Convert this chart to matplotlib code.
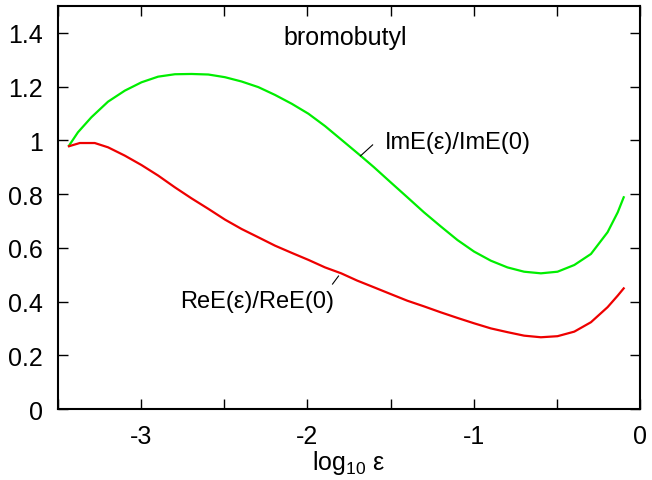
import matplotlib
matplotlib.use("Agg")
import matplotlib.pyplot as plt
import numpy as np

plt.rcParams['font.family'] = ['Liberation Sans', 'DejaVu Sans']
plt.rcParams['mathtext.default'] = 'regular'

# ImE(eps)/ImE(0)
x_im = [-3.434, -3.380, -3.299, -3.199, -3.098, -2.998, -2.898, -2.797, -2.697,
        -2.596, -2.496, -2.396, -2.295, -2.195, -2.094, -1.994, -1.894, -1.797,
        -1.681, -1.600, -1.500, -1.399, -1.299, -1.199, -1.098, -0.998, -0.897,
        -0.797, -0.697, -0.596, -0.496, -0.395, -0.295, -0.195, -0.134, -0.098]
y_im = [0.980, 1.030, 1.086, 1.144, 1.185, 1.216, 1.237, 1.246, 1.247,
        1.245, 1.235, 1.219, 1.198, 1.169, 1.136, 1.099, 1.053, 1.003,
        0.943, 0.900, 0.844, 0.788, 0.732, 0.680, 0.629, 0.586, 0.552,
        0.527, 0.511, 0.505, 0.511, 0.536, 0.577, 0.658, 0.732, 0.788]

# ReE(eps)/ReE(0)
x_re = [-3.434, -3.369, -3.279, -3.199, -3.098, -2.998, -2.898, -2.797, -2.697,
        -2.596, -2.496, -2.396, -2.295, -2.195, -2.094, -1.994, -1.894, -1.797,
        -1.701, -1.600, -1.500, -1.399, -1.299, -1.199, -1.098, -0.998, -0.897,
        -0.797, -0.697, -0.596, -0.496, -0.395, -0.295, -0.195, -0.134, -0.098]
y_re = [0.978, 0.990, 0.990, 0.974, 0.943, 0.908, 0.869, 0.825, 0.784,
        0.745, 0.705, 0.670, 0.639, 0.608, 0.581, 0.555, 0.527, 0.505,
        0.478, 0.453, 0.428, 0.403, 0.382, 0.360, 0.339, 0.319, 0.300,
        0.286, 0.273, 0.267, 0.271, 0.288, 0.323, 0.379, 0.422, 0.449]

fig = plt.figure(figsize=(6.52, 4.81), dpi=100)
ax = fig.add_axes([58/652, 1-410/481, (640-58)/652, (410-7)/481])

ax.plot(x_im, y_im, color='#00ee00', lw=1.6)
ax.plot(x_re, y_re, color='#ee0000', lw=1.6)

ax.set_xlim(-3.5, 0)
ax.set_ylim(0, 1.5)
xt = np.arange(-3.5, 0.01, 0.5)
ax.set_xticks(xt)
ax.set_xticklabels(['%d' % v if v == int(v) and v > -3.5 else '' for v in xt])
ax.set_yticks(np.arange(0, 1.41, 0.2))
ax.set_yticklabels(['0', '0.2', '0.4', '0.6', '0.8', '1', '1.2', '1.4'])
ax.tick_params(direction='in', top=True, right=True, length=7, width=1,
               labelsize=18)
ax.tick_params(axis='x', pad=11)
ax.tick_params(axis='y', pad=11)
for s in ax.spines.values():
    s.set_linewidth(1.5)

ax.set_xlabel('log$_{10}$ ε', fontsize=18, labelpad=0)

ax.text(-1.774, 1.359, 'bromobutyl', fontsize=18, ha='center', va='baseline')
ax.text(-1.536, 0.972, 'ImE(ε)/ImE(0)', fontsize=17, ha='left', va='baseline')
ax.plot([-1.681, -1.608], [0.942, 0.983], color='black', lw=0.8)
ax.text(-2.765, 0.380, 'ReE(ε)/ReE(0)', fontsize=17, ha='left', va='baseline')
ax.plot([-1.849, -1.813], [0.465, 0.495], color='black', lw=0.8)

fig.savefig('out.png', dpi=100)
